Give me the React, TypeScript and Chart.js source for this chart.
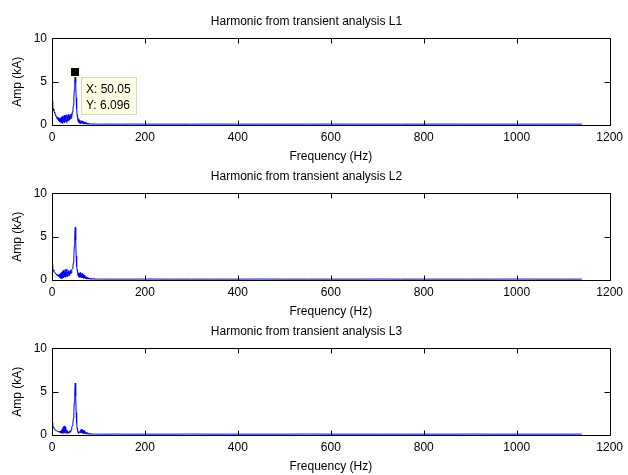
import React, { useEffect, useRef } from "react";
import { Chart, registerables } from "chart.js";

Chart.register(...registerables);

// ---------- data ----------
const FREQ_LOW = [
  0, 1, 2, 3, 4, 5, 6, 7, 8, 9, 10, 11, 12, 13, 14, 15, 16, 17, 18, 19, 20,
  21, 22, 23, 24, 25, 26, 27, 28, 29, 30, 31, 32, 33, 34, 35, 36, 37, 38, 39, 40,
  41, 42, 43, 44, 45, 46, 47, 48, 49, 50.05, 51, 52, 53, 54, 55, 56, 57, 58, 59, 60,
  61, 62, 63, 64, 65, 66, 67, 68, 69, 70, 71, 72, 73, 74, 75, 76, 77, 78, 79, 80,
  81, 82, 83, 84, 85, 86, 87, 88, 89, 90, 91, 92, 93, 94, 95, 96, 97, 98, 99, 100,
];
const FREQ_TAIL = [
  104, 110, 120, 135, 150, 175, 200, 250, 300, 350, 400, 450, 500, 550, 600, 650,
  700, 750, 800, 850, 900, 950, 1000, 1050, 1100, 1140,
];

const L1_LOW = [
  2.8, 2.4, 2.1, 1.85, 1.65, 1.5, 1.35, 1.2, 1.05, 0.95, 0.9,
  0.7, 0.95, 0.6, 0.85, 0.5, 0.8, 0.35, 0.75, 0.3, 0.9,
  0.25, 1.0, 0.2, 0.85, 0.35, 1.1, 0.25, 0.95, 0.4, 1.15,
  0.3, 1.2, 0.45, 1.05, 0.5, 1.25, 0.6, 1.1, 0.7, 1.2,
  0.8, 1.3, 1.1, 1.5, 1.8, 2.3, 3.1, 4.1, 5.2, 6.096,
  4.9, 3.1, 1.9, 1.2, 0.8, 0.45, 0.75, 0.3, 0.55, 0.2,
  0.4, 0.15, 0.35, 0.5, 0.2, 0.45, 0.15, 0.4, 0.12, 0.35,
  0.15, 0.3, 0.12, 0.25, 0.1, 0.2, 0.1, 0.17, 0.1, 0.15,
  0.12, 0.1, 0.14, 0.1, 0.12, 0.1, 0.13, 0.1, 0.12, 0.1,
  0.12, 0.1, 0.11, 0.1, 0.1, 0.11, 0.1, 0.1, 0.11, 0.1,
];
const L2_LOW = [
  1.8, 1.5, 1.3, 1.15, 1.0, 0.9, 0.85, 0.8, 0.7, 0.65, 0.6,
  0.5, 0.65, 0.45, 0.6, 0.4, 0.65, 0.3, 0.75, 0.2, 0.85,
  0.15, 0.95, 0.25, 1.1, 0.3, 0.9, 0.35, 1.2, 0.3, 1.0,
  0.45, 1.25, 0.4, 0.9, 0.55, 1.1, 0.5, 1.0, 0.7, 1.15,
  0.8, 1.05, 1.2, 1.3, 1.6, 2.0, 2.8, 3.9, 5.1, 6.1,
  4.6, 2.8, 1.6, 1.2, 0.9, 0.5, 0.85, 0.4, 0.75, 0.3,
  0.85, 0.4, 0.65, 0.25, 0.75, 0.3, 0.65, 0.2, 0.55, 0.2,
  0.5, 0.15, 0.4, 0.15, 0.35, 0.12, 0.3, 0.12, 0.25, 0.12,
  0.22, 0.1, 0.2, 0.1, 0.17, 0.1, 0.16, 0.1, 0.14, 0.1,
  0.13, 0.1, 0.12, 0.1, 0.11, 0.1, 0.1, 0.11, 0.1, 0.1,
];
const L3_LOW = [
  1.4, 1.2, 1.05, 0.9, 0.8, 0.7, 0.65, 0.6, 0.55, 0.5, 0.5,
  0.45, 0.45, 0.4, 0.42, 0.38, 0.4, 0.3, 0.45, 0.25, 0.5,
  0.2, 0.7, 0.25, 0.9, 0.2, 1.05, 0.3, 0.95, 0.2, 0.8,
  0.25, 0.6, 0.2, 0.4, 0.2, 0.3, 0.4, 0.25, 0.5, 0.35,
  0.6, 0.7, 0.9, 1.1, 1.4, 1.9, 2.7, 3.8, 5.0, 6.0,
  4.5, 2.6, 1.4, 0.8, 0.5, 0.25, 0.4, 0.2, 0.3, 0.35,
  0.55, 0.25, 0.65, 0.3, 0.6, 0.2, 0.55, 0.2, 0.5, 0.15,
  0.4, 0.15, 0.35, 0.12, 0.3, 0.12, 0.25, 0.1, 0.2, 0.1,
  0.18, 0.1, 0.15, 0.1, 0.14, 0.1, 0.12, 0.1, 0.11, 0.1,
  0.11, 0.1, 0.1, 0.11, 0.1, 0.1, 0.1, 0.1, 0.1, 0.1,
];
const L1_TAIL = [
  0.1, 0.1, 0.11, 0.1, 0.1, 0.11, 0.1, 0.1, 0.1, 0.11, 0.1, 0.1, 0.1,
  0.1, 0.11, 0.1, 0.1, 0.1, 0.1, 0.11, 0.1, 0.1, 0.1, 0.1, 0.1, 0.1,
];
const L2_TAIL = [
  0.1, 0.11, 0.1, 0.1, 0.1, 0.1, 0.11, 0.1, 0.1, 0.1, 0.1, 0.11, 0.1,
  0.1, 0.1, 0.1, 0.11, 0.1, 0.1, 0.1, 0.1, 0.1, 0.11, 0.1, 0.1, 0.1,
];
const L3_TAIL = [
  0.1, 0.1, 0.1, 0.11, 0.1, 0.1, 0.1, 0.1, 0.11, 0.1, 0.1, 0.1, 0.1,
  0.11, 0.1, 0.1, 0.1, 0.1, 0.1, 0.1, 0.11, 0.1, 0.1, 0.1, 0.1, 0.1,
];

const TITLES = [
  "Harmonic from transient analysis L1",
  "Harmonic from transient analysis L2",
  "Harmonic from transient analysis L3",
];
const X_LABEL = "Frequency (Hz)";
const Y_LABEL = "Amp (kA)";
const X_MIN = 0;
const X_MAX = 1200;
const X_STEP = 200;
const Y_MIN = 0;
const Y_MAX = 10;
const Y_STEP = 5;
const TIP_X = "50.05";
const TIP_Y = "6.096";

// ---------- helpers ----------
const FONT = "'Liberation Sans', Arial, Helvetica, sans-serif";

function buildPoints(low: number[], tail: number[]) {
  const freqs = FREQ_LOW.concat(FREQ_TAIL);
  const amps = low.concat(tail);
  return freqs.map((f, i) => ({ x: f, y: amps[i] }));
}

const matlabAxes = {
  id: "matlabAxes",
  afterDatasetsDraw(chart: any, _args: any, opts: any) {
    const { ctx, chartArea } = chart;
    const { left, right, top, bottom } = chartArea;
    const xs = chart.scales.x;
    const ys = chart.scales.y;
    ctx.save();
    ctx.strokeStyle = "#000";
    ctx.lineWidth = 1;
    const L = Math.round(left) + 0.5;
    const R = Math.round(right) + 0.5;
    const T = Math.round(top) + 0.5;
    const B = Math.round(bottom) + 0.5;
    ctx.beginPath();
    ctx.rect(L, T, R - L, B - T);
    ctx.stroke();
    ctx.beginPath();
    xs.ticks.forEach((t: any) => {
      const px = Math.round(xs.getPixelForValue(t.value)) + 0.5;
      ctx.moveTo(px, B);
      ctx.lineTo(px, B - 5);
      ctx.moveTo(px, T);
      ctx.lineTo(px, T + 5);
    });
    ys.ticks.forEach((t: any) => {
      const py = Math.round(ys.getPixelForValue(t.value)) + 0.5;
      ctx.moveTo(L, py);
      ctx.lineTo(L + 6, py);
      ctx.moveTo(R, py);
      ctx.lineTo(R - 6, py);
    });
    ctx.stroke();

    if (opts && opts.show) {
      const px = xs.getPixelForValue(Number(opts.x));
      const py = ys.getPixelForValue(Number(opts.y));
      // marker
      ctx.fillStyle = "#000";
      ctx.strokeStyle = "#ffffc8";
      ctx.lineWidth = 1;
      ctx.fillRect(Math.round(px) - 4, Math.round(py) - 4, 8, 8);
      ctx.strokeRect(Math.round(px) - 4.5, Math.round(py) - 4.5, 9, 9);
      // box
      const bx = Math.round(px) + 6;
      const by = Math.round(py) + 5;
      const bw = 56;
      const bh = 38;
      ctx.fillStyle = "#ffffe6";
      ctx.fillRect(bx, by, bw, bh);
      ctx.strokeStyle = "#d8d8c8";
      ctx.strokeRect(bx + 0.5, by + 0.5, bw - 1, bh - 1);
      ctx.fillStyle = "#000";
      ctx.font = `12px ${FONT}`;
      ctx.textAlign = "left";
      ctx.textBaseline = "middle";
      ctx.fillText(`X: ${opts.x}`, bx + 5, by + 13);
      ctx.fillText(`Y: ${opts.y}`, bx + 5, by + 29);
    }
    ctx.restore();
  },
};

function makeConfig(title: string, points: any[], tip: boolean): any {
  const tickFont = { family: FONT, size: 12 };
  return {
    type: "line",
    data: {
      datasets: [
        {
          data: points,
          borderColor: "#0000ff",
          borderWidth: 1,
          pointRadius: 0,
          tension: 0,
          fill: false,
        },
      ],
    },
    plugins: [matlabAxes],
    options: {
      animation: false,
      responsive: false,
      layout: { padding: { left: 0, right: 15, top: 0, bottom: 0 } },
      plugins: {
        legend: { display: false },
        tooltip: { enabled: false },
        title: {
          display: true,
          text: title,
          color: "#000",
          font: { family: FONT, size: 12, weight: "normal" },
          padding: { top: 14, bottom: 10 },
        },
        matlabAxes: { show: tip, x: TIP_X, y: TIP_Y },
      },
      scales: {
        x: {
          type: "linear",
          min: X_MIN,
          max: X_MAX,
          ticks: {
            stepSize: X_STEP,
            color: "#000",
            font: tickFont,
            padding: 5,
            maxRotation: 0,
            autoSkip: false,
            callback: (v: any) => String(v),
          },
          grid: { display: false, drawTicks: false },
          border: { display: false },
          title: {
            display: true,
            text: X_LABEL,
            color: "#000",
            font: tickFont,
            padding: { top: 0, bottom: 1 },
          },
          afterFit: (s: any) => {
            s.height = 40;
          },
        },
        y: {
          min: Y_MIN,
          max: Y_MAX,
          ticks: {
            stepSize: Y_STEP,
            color: "#000",
            font: tickFont,
            padding: 5,
            callback: (v: any) => String(v),
          },
          grid: { display: false, drawTicks: false },
          border: { display: false },
          title: {
            display: true,
            text: Y_LABEL,
            color: "#000",
            font: tickFont,
            padding: { top: 10, bottom: 0 },
          },
          afterFit: (s: any) => {
            s.width = 52;
          },
        },
      },
    },
  };
}

function Panel({ top, title, low, tail, tip }: any) {
  const ref = useRef<HTMLCanvasElement | null>(null);
  useEffect(() => {
    if (!ref.current) return;
    const chart = new Chart(ref.current, makeConfig(title, buildPoints(low, tail), tip));
    return () => chart.destroy();
  }, []);
  return (
    <canvas
      ref={ref}
      width={628}
      height={165}
      style={{ position: "absolute", left: 0, top, width: 628, height: 165 }}
    />
  );
}

export default function App() {
  return (
    <div
      style={{
        position: "absolute",
        left: 0,
        top: 0,
        width: 628,
        height: 475,
        background: "#fff",
      }}
    >
      <Panel top={0} title={TITLES[0]} low={L1_LOW} tail={L1_TAIL} tip={true} />
      <Panel top={155} title={TITLES[1]} low={L2_LOW} tail={L2_TAIL} tip={false} />
      <Panel top={310} title={TITLES[2]} low={L3_LOW} tail={L3_TAIL} tip={false} />
    </div>
  );
}
